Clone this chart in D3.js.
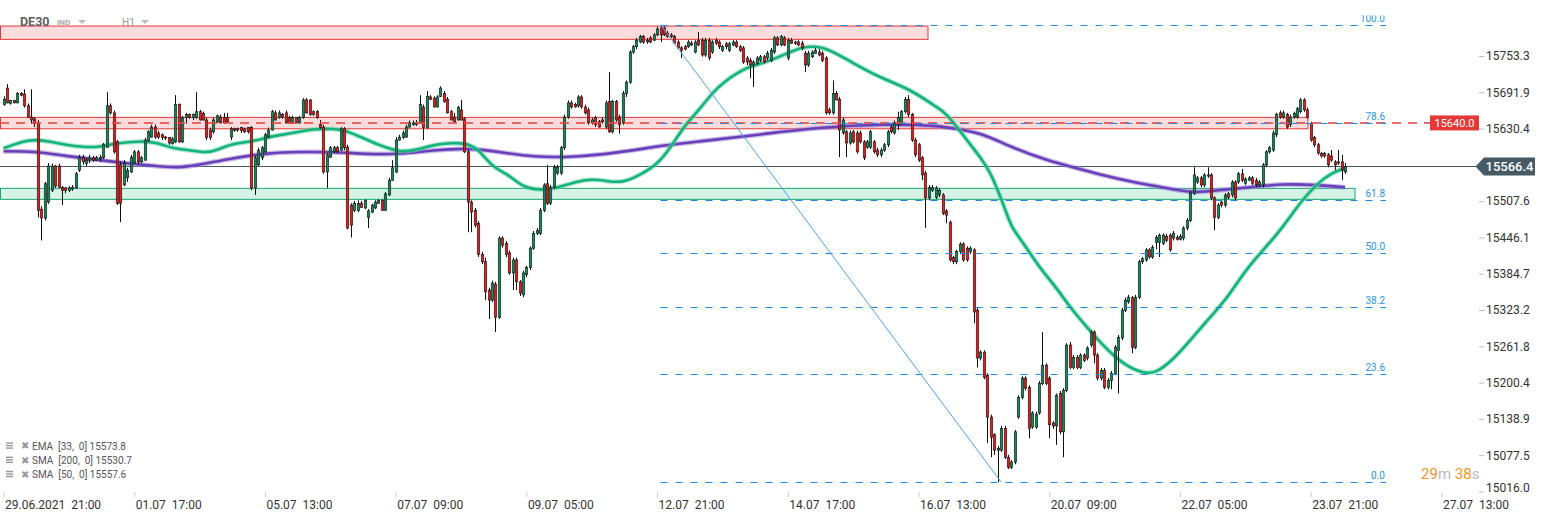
<!DOCTYPE html>
<html><head><meta charset="utf-8">
<script src="https://cdn.jsdelivr.net/npm/d3@7"></script>
<style>
html,body{margin:0;padding:0;background:#fff;}
svg{display:block;font-family:Roboto,"Noto Sans",sans-serif;}
</style></head><body>
<svg id="chart" width="1546" height="518"></svg>
<script>
// ---- candle data (DE30, H1) ----
const openP = [
15671,15699,15673,15678,15674,15690,15689,15669,15650,15647,
15640,15494,15479,15506,15526,15567,15567,15531,15530,15526,
15528,15530,15560,15582,15571,15577,15581,15577,15579,15581,
15599,15669,15657,15608,15569,15535,15547,15557,15572,15591,
15574,15577,15610,15616,15633,15623,15620,15616,15615,15605,
15608,15671,15608,15649,15654,15649,15649,15659,15656,15645,
15628,15625,15642,15650,15649,15649,15616,15630,15628,15632,
15630,15632,15632,15530,15569,15581,15591,15616,15628,15657,
15649,15654,15657,15649,15640,15649,15640,15649,15679,15679,
15659,15659,15637,15633,15557,15582,15591,15598,15594,15630,
15599,15501,15492,15492,15504,15496,15480,15489,15496,15504,
15509,15492,15518,15543,15557,15611,15615,15616,15633,15637,
15637,15640,15667,15632,15684,15682,15667,15685,15690,15680,
15659,15650,15645,15662,15647,15591,15506,15492,15470,15417,
15405,15357,15340,15367,15311,15445,15436,15420,15386,15408,
15371,15349,15383,15395,15428,15453,15453,15492,15537,15504,
15531,15555,15555,15598,15650,15674,15671,15669,15684,15667,
15662,15640,15649,15642,15645,15633,15676,15625,15676,15650,
15640,15690,15709,15760,15769,15777,15786,15777,15784,15780,
15789,15801,15801,15792,15789,15786,15777,15767,15769,15769,
15775,15760,15780,15780,15755,15780,15760,15780,15777,15763,
15774,15763,15772,15777,15769,15767,15750,15746,15738,15741,
15746,15752,15750,15746,15760,15784,15772,15784,15750,15780,
15777,15777,15775,15758,15738,15752,15758,15760,15758,15750,
15662,15657,15690,15680,15623,15625,15606,15625,15623,15623,
15608,15599,15599,15608,15594,15586,15594,15603,15633,15623,
15637,15640,15659,15680,15654,15611,15603,15581,15555,15513,
15526,15514,15518,15518,15491,15472,15412,15405,15422,15435,
15428,15422,15425,15323,15242,15252,15213,15142,15112,15086,
15086,15123,15074,15057,15066,15142,15175,15208,15192,15125,
15125,15149,15199,15230,15208,15132,15127,15182,15117,15187,
15264,15226,15243,15226,15247,15242,15264,15286,15247,15208,
15221,15192,15204,15216,15255,15276,15323,15337,15344,15260,
15345,15405,15408,15425,15413,15438,15438,15436,15448,15450,
15445,15446,15443,15445,15462,15475,15521,15540,15547,15535,
15550,15552,15513,15480,15506,15501,15520,15518,15540,15540,
15554,15538,15543,15547,15543,15535,15535,15569,15591,15594,
15620,15657,15650,15654,15637,15650,15650,15659,15679,15662,
15639,15615,15603,15588,15588,15586,15584,15574,15574,15574,
15557];
const highP = [
15685,15706,15679,15679,15692,15692,15697,15673,15697,15650,
15645,15499,15540,15572,15571,15569,15571,15533,15531,15533,
15535,15557,15586,15586,15581,15586,15584,15584,15586,15606,
15692,15673,15661,15611,15574,15577,15564,15586,15594,15594,
15584,15615,15628,15637,15637,15627,15622,15618,15616,15616,
15687,15673,15652,15657,15656,15656,15692,15662,15659,15649,
15632,15649,15654,15654,15657,15657,15633,15632,15632,15633,
15632,15633,15635,15584,15598,15601,15623,15632,15662,15661,
15661,15657,15661,15652,15652,15650,15652,15682,15682,15680,
15661,15662,15645,15637,15589,15601,15601,15601,15633,15633,
15603,15504,15508,15509,15508,15511,15494,15503,15509,15511,
15511,15523,15547,15577,15616,15620,15627,15637,15644,15644,
15645,15687,15671,15694,15687,15685,15687,15702,15694,15684,
15662,15657,15669,15679,15650,15594,15509,15496,15474,15422,
15412,15361,15373,15371,15448,15448,15440,15424,15412,15412,
15374,15390,15398,15431,15457,15462,15496,15538,15569,15535,
15569,15569,15601,15654,15678,15678,15674,15687,15687,15671,
15666,15649,15652,15645,15649,15678,15726,15679,15679,15654,
15694,15712,15763,15772,15784,15789,15789,15784,15787,15792,
15803,15806,15803,15796,15792,15789,15780,15770,15772,15780,
15779,15780,15794,15784,15784,15784,15780,15784,15780,15772,
15777,15777,15780,15780,15772,15770,15753,15750,15746,15753,
15755,15755,15762,15767,15787,15787,15789,15787,15784,15784,
15779,15780,15779,15762,15762,15763,15767,15765,15762,15753,
15666,15712,15694,15684,15649,15628,15627,15628,15627,15627,
15611,15611,15628,15611,15598,15598,15606,15628,15637,15644,
15659,15662,15684,15687,15657,15615,15606,15584,15559,15535,
15535,15533,15530,15521,15494,15475,15415,15425,15438,15438,
15431,15431,15428,15327,15255,15255,15216,15146,15115,15093,
15127,15127,15078,15069,15120,15179,15211,15211,15196,15152,
15151,15203,15286,15233,15211,15135,15182,15186,15191,15267,
15269,15247,15247,15250,15250,15262,15289,15289,15250,15225,
15225,15208,15220,15264,15281,15327,15344,15349,15347,15349,
15408,15413,15428,15428,15433,15450,15453,15453,15452,15453,
15457,15450,15452,15465,15479,15525,15565,15550,15550,15555,
15565,15555,15516,15504,15509,15521,15523,15543,15543,15557,
15562,15548,15550,15550,15547,15543,15572,15594,15601,15627,
15657,15661,15661,15657,15654,15659,15667,15682,15682,15666,
15642,15618,15606,15591,15591,15589,15594,15577,15594,15586,
15572];
const lowP = [
15669,15673,15671,15673,15673,15685,15666,15649,15639,15633,
15480,15441,15475,15503,15523,15530,15530,15501,15521,15523,
15525,15528,15557,15569,15567,15572,15574,15576,15574,15579,
15598,15654,15588,15501,15472,15533,15540,15555,15571,15569,
15572,15576,15608,15615,15613,15613,15611,15611,15603,15603,
15606,15606,15606,15639,15647,15645,15647,15644,15644,15611,
15611,15622,15640,15639,15639,15640,15611,15625,15625,15623,
15623,15622,15526,15518,15567,15577,15589,15615,15627,15644,
15647,15647,15639,15639,15639,15639,15639,15647,15656,15652,
15652,15647,15630,15554,15530,15581,15589,15589,15593,15594,
15460,15446,15489,15489,15496,15494,15462,15487,15494,15503,
15491,15491,15516,15542,15555,15610,15613,15615,15632,15635,
15635,15639,15611,15630,15679,15666,15666,15684,15674,15656,
15644,15640,15644,15644,15589,15455,15455,15463,15413,15401,
15340,15308,15337,15286,15308,15429,15413,15383,15357,15357,
15347,15345,15379,15391,15425,15450,15450,15489,15501,15501,
15528,15552,15552,15594,15647,15664,15666,15666,15664,15654,
15637,15637,15633,15632,15639,15630,15623,15622,15642,15622,
15637,15684,15706,15757,15765,15775,15774,15774,15775,15779,
15787,15777,15787,15784,15784,15774,15765,15750,15763,15767,
15770,15758,15770,15752,15752,15746,15757,15772,15765,15760,
15765,15760,15770,15767,15760,15740,15738,15716,15701,15738,
15743,15741,15746,15743,15757,15770,15770,15770,15746,15774,
15772,15770,15763,15726,15735,15750,15757,15753,15743,15654,
15654,15654,15678,15582,15620,15582,15603,15605,15588,15605,
15577,15596,15596,15588,15582,15582,15591,15599,15622,15620,
15628,15637,15656,15650,15608,15582,15574,15543,15462,15509,
15523,15511,15514,15484,15470,15405,15401,15401,15418,15405,
15405,15418,15301,15226,15238,15206,15098,15074,15078,15032,
15083,15071,15054,15054,15062,15139,15172,15187,15106,15122,
15122,15146,15196,15196,15106,15122,15095,15113,15074,15184,
15223,15223,15223,15223,15235,15238,15260,15233,15204,15204,
15189,15189,15189,15213,15182,15272,15320,15334,15250,15257,
15342,15401,15405,15410,15410,15426,15413,15433,15438,15422,
15441,15441,15441,15441,15458,15472,15518,15537,15531,15531,
15547,15509,15458,15477,15497,15497,15511,15514,15509,15537,
15540,15535,15542,15535,15531,15531,15531,15565,15588,15591,
15616,15647,15647,15630,15633,15647,15647,15656,15659,15647,
15608,15599,15586,15581,15581,15565,15574,15560,15569,15543,
15554];
const closeP = [
15680,15674,15678,15674,15690,15687,15669,15650,15645,15639,
15492,15479,15537,15567,15567,15533,15531,15526,15526,15530,
15531,15554,15582,15574,15577,15581,15577,15581,15582,15603,
15669,15657,15591,15504,15504,15572,15560,15582,15591,15574,
15581,15611,15625,15633,15616,15616,15615,15615,15606,15613,
15671,15608,15649,15654,15649,15654,15659,15645,15645,15615,
15615,15645,15652,15640,15640,15642,15630,15627,15630,15627,
15625,15625,15530,15581,15594,15598,15620,15628,15659,15645,
15657,15649,15640,15640,15649,15640,15649,15679,15657,15654,
15654,15649,15632,15557,15586,15598,15598,15591,15630,15598,
15462,15467,15504,15504,15497,15509,15491,15501,15506,15509,
15492,15520,15543,15564,15611,15616,15623,15633,15640,15640,
15640,15671,15632,15685,15680,15667,15684,15699,15676,15657,
15645,15642,15666,15645,15591,15506,15489,15467,15417,15405,
15354,15340,15369,15311,15445,15433,15417,15386,15408,15371,
15352,15386,15395,15428,15453,15458,15492,15535,15504,15531,
15565,15565,15598,15650,15674,15667,15667,15684,15667,15657,
15640,15645,15637,15633,15642,15674,15625,15676,15645,15637,
15690,15709,15760,15769,15780,15786,15777,15780,15777,15789,
15799,15789,15789,15786,15786,15775,15767,15763,15765,15777,
15772,15777,15772,15755,15780,15750,15777,15775,15769,15769,
15769,15774,15777,15769,15763,15743,15743,15738,15743,15750,
15752,15743,15758,15763,15784,15772,15786,15772,15780,15775,
15775,15772,15767,15738,15758,15760,15763,15755,15746,15657,
15657,15690,15679,15628,15645,15606,15623,15608,15591,15608,
15581,15608,15625,15591,15586,15594,15603,15625,15625,15640,
15649,15659,15680,15654,15611,15586,15577,15552,15513,15531,
15531,15530,15526,15487,15484,15408,15405,15422,15435,15408,
15408,15428,15320,15242,15252,15209,15142,15108,15086,15089,
15123,15074,15057,15066,15117,15175,15208,15191,15123,15149,
15147,15199,15230,15199,15129,15127,15179,15117,15187,15264,
15226,15243,15226,15247,15238,15259,15286,15247,15208,15221,
15192,15204,15216,15260,15277,15323,15340,15345,15260,15345,
15405,15410,15425,15413,15429,15446,15450,15450,15441,15425,
15453,15443,15448,15462,15475,15521,15552,15547,15535,15552,
15552,15513,15480,15501,15501,15518,15514,15540,15513,15554,
15543,15545,15547,15538,15535,15540,15569,15591,15598,15623,
15654,15650,15657,15633,15650,15656,15664,15679,15662,15650,
15611,15603,15589,15584,15584,15569,15577,15569,15572,15560,
15566.4];

// ---- moving averages (bar index, value) ----
const emaIdx = [0,8,14,18,23,28,33,38,41,45,49,54,59,62,67,72,77,81,86,91,96,99,104,109,112,115,120,125,130,134,138,142,147,151,156,161,166,171,175,180,185,190,194,198,203,207,215,221,228,232,236,240,247,255,264,271,274,280,284,287,289,291,293,296,301,306,310,315,319,325,331,335,340,345,350,356,361,367,372,377,382,386,390];
const emaVal = [15597,15614,15608,15603,15599,15599,15606,15608,15609,15606,15597,15594,15589,15594,15606,15608,15616,15620,15625,15630,15630,15628,15616,15603,15597,15591,15594,15603,15606,15606,15597,15565,15552,15531,15526,15530,15540,15545,15542,15538,15552,15569,15599,15636,15667,15699,15733,15741,15758,15768,15770,15765,15741,15716,15696,15667,15658,15611,15582,15555,15526,15497,15463,15441,15396,15362,15328,15294,15267,15233,15216,15216,15239,15272,15306,15345,15391,15430,15464,15506,15538,15555,15564];
const sma200Idx = [0,9,18,28,38,48,52,57,67,77,86,96,106,115,125,134,140,144,154,166,178,193,203,218,237,257,271,279,284,293,303,313,319,328,338,346,353,362,372,382,390];
const sma200Val = [15592,15592,15584,15577,15570,15565,15565,15569,15581,15589,15591,15591,15587,15587,15594,15597,15594,15591,15582,15582,15589,15603,15609,15619,15633,15638,15636,15628,15623,15599,15577,15562,15552,15540,15530,15521,15526,15531,15537,15535,15531];

// ---- axes ----
const yTickValues = [15753.3,15691.9,15630.4,15507.6,15446.1,15384.7,15323.2,15261.8,15200.4,15138.9,15077.5,15016.0];
const xTickIdx = [0,38,76,114,152,190,228,266,304,342,380,418];
const xTickLabels = ["29.06.2021  21:00","01.07  17:00","05.07  13:00","07.07  09:00","09.07  05:00","12.07  21:00","14.07  17:00","16.07  13:00","20.07  09:00","22.07  05:00","23.07  21:00","27.07  13:00"];

// ---- drawings ----
const fibLevels = [0.0,23.6,38.2,50.0,61.8,78.6,100.0];
const fibHigh = 15806, fibLow = 15032;
const fibHighIdx = 191, fibLowIdx = 290;
const zoneTop = [15781.5,15804.0];
const zoneResistance = [15630.1,15649.4];
const zoneSupport = [15510.6,15529.2];
const resistanceLevel = 15640.0;
const lastPrice = 15566.4;
const legendItems = ["EMA  [33,  0] 15573.8","SMA  [200,  0] 15530.7","SMA  [50,  0] 15557.6"];

const svg = d3.select("#chart");
const x = d3.scaleLinear().domain([0,390]).range([3.5,1345.1]);
const y = d3.scaleLinear().domain([15016,15753.3]).range([491.5,56]);

const bars = openP.map((o,i)=>({i,o,h:highP[i],l:lowP[i],c:closeP[i]}));

// zones
function zone(r, x1, fill, stroke){
  svg.append("rect").attr("x",0.5).attr("width",x1-0.5)
    .attr("y",y(r[1])).attr("height",y(r[0])-y(r[1]))
    .attr("fill",fill).attr("stroke",stroke).attr("stroke-width",1);
}
zone(zoneTop, 928, "#fbdcdc", "#e53935");
zone(zoneResistance, 1308, "#fbdcdc", "#e53935");
zone(zoneSupport, 1355, "#d6f3e8", "#16a873");

// current price line
svg.append("line").attr("x1",0).attr("x2",1476)
  .attr("y1",Math.round(y(lastPrice))+0.5).attr("y2",Math.round(y(lastPrice))+0.5)
  .attr("stroke","#455a64").attr("stroke-width",1);

// moving averages
const line = d3.line().x(d=>x(d[0])).y(d=>y(d[1])).curve(d3.curveBasis);
const smaPts = sma200Idx.map((d,i)=>[d,sma200Val[i]]);
const emaPts = emaIdx.map((d,i)=>[d,emaVal[i]]);
svg.append("path").attr("d",line(smaPts)).attr("fill","none").attr("stroke","#9d84d8").attr("stroke-width",5).attr("opacity",0.55);
svg.append("path").attr("d",line(smaPts)).attr("fill","none").attr("stroke","#6a40b8").attr("stroke-width",2.6);
svg.append("path").attr("d",line(emaPts)).attr("fill","none").attr("stroke","#6fd4ab").attr("stroke-width",5).attr("opacity",0.55);
svg.append("path").attr("d",line(emaPts)).attr("fill","none").attr("stroke","#14b37c").attr("stroke-width",2.6);

// candles
const cg = svg.append("g");
const cx = i => Math.round(x(i)) + 0.5;
cg.selectAll("line.w").data(bars).join("line").attr("class","w")
  .attr("x1",d=>cx(d.i)).attr("x2",d=>cx(d.i))
  .attr("y1",d=>y(d.h)).attr("y2",d=>y(d.l))
  .attr("stroke","#111").attr("stroke-width",1);
cg.selectAll("rect.b").data(bars).join("rect").attr("class","b")
  .attr("x",d=>cx(d.i)-1.25).attr("width",2.5)
  .attr("y",d=>y(Math.max(d.o,d.c)))
  .attr("height",d=>Math.max(1,Math.abs(y(d.o)-y(d.c))))
  .attr("fill",d=>d.c>=d.o?"#12875c":"#e31b1b")
  .attr("stroke","#161616").attr("stroke-width",0.6);

// resistance dashed line
svg.append("line").attr("x1",0).attr("x2",1430)
  .attr("y1",y(resistanceLevel)).attr("y2",y(resistanceLevel))
  .attr("stroke","#e84646").attr("stroke-width",2).attr("stroke-dasharray","9,7").attr("opacity",0.8);

// fibonacci
svg.append("clipPath").attr("id","fibclip").append("rect").attr("x",0).attr("y",15.5).attr("width",1546).attr("height",504);
const fg = svg.append("g").attr("clip-path","url(#fibclip)");
fibLevels.forEach(l=>{
  const v = fibLow + (fibHigh-fibLow)*l/100;
  const yy = Math.round(y(v))+0.5;
  fg.append("line").attr("x1",x(fibHighIdx)).attr("x2",1386).attr("y1",yy).attr("y2",yy)
    .attr("stroke","#1e88e5").attr("stroke-width",1).attr("stroke-dasharray","7,8");
  fg.append("text").attr("x",1385).attr("y",yy-4).attr("text-anchor","end")
    .attr("font-size",10).attr("fill","#2196f3").text(l.toFixed(1));
});
svg.append("line").attr("x1",x(fibHighIdx)).attr("y1",y(fibHigh))
  .attr("x2",x(fibLowIdx)).attr("y2",y(fibLow))
  .attr("stroke","#42a5f5").attr("stroke-width",1);

// y axis
const yAxis = d3.axisRight(y).tickValues(yTickValues).tickSize(5).tickFormat(d=>d.toFixed(1));
const ya = svg.append("g").attr("transform","translate(1479,0)").call(yAxis);
ya.select(".domain").remove();
ya.selectAll(".tick line").attr("stroke","#bbb");
ya.selectAll(".tick text").attr("x",7).attr("fill","#333").attr("font-size",12).attr("font-family","Roboto,sans-serif");
ya.selectAll(".tick").filter(d=>d===15016.0).select("text").attr("dy","0.0em");

// x axis
const xAxis = d3.axisBottom(x).tickValues(xTickIdx).tickSize(5).tickFormat((d,i)=>xTickLabels[i]);
const xa = svg.append("g").attr("transform","translate(0,492)").call(xAxis);
xa.select(".domain").remove();
xa.selectAll(".tick line").attr("stroke","#ccc");
xa.selectAll(".tick text").attr("text-anchor","start").attr("x",1).attr("y",8)
  .attr("fill","#333").attr("font-size",12).attr("font-family","Roboto,sans-serif")
  .style("white-space","pre");

// resistance label
const ry = y(resistanceLevel);
svg.append("rect").attr("x",1430).attr("y",ry-7.5).attr("width",49).attr("height",15).attr("fill","#e53935");
svg.append("text").attr("x",1454.5).attr("y",ry).attr("dy","0.35em").attr("text-anchor","middle")
  .attr("font-size",11).attr("fill","#fff").text(resistanceLevel.toFixed(1));

// current price label
const py = y(lastPrice);
svg.append("path").attr("d",`M1475.5,${py} L1484,${py-9} L1535,${py-9} L1535,${py+9} L1484,${py+9} Z`).attr("fill","#455a64");
svg.append("text").attr("x",1509.5).attr("y",py).attr("dy","0.36em").attr("text-anchor","middle")
  .attr("font-size",13).attr("font-weight",500).attr("fill","#fff").text(lastPrice.toFixed(1));

// header
svg.append("text").attr("x",20).attr("y",26).attr("font-size",12.5).attr("font-weight","bold").attr("fill","#5f5f5f").text("DE30");
svg.append("text").attr("x",57).attr("y",25).attr("font-size",8).attr("font-weight","bold").attr("fill","#aaa").text("IND");
svg.append("path").attr("d","M78,20 L86,20 L82,24 Z").attr("fill","#bbb");
svg.append("text").attr("x",122).attr("y",26).attr("font-size",10).attr("fill","#999").text("H1");
svg.append("path").attr("d","M141,20 L149,20 L145,24 Z").attr("fill","#bbb");

// legend
legendItems.forEach((t,i)=>{
  const ly = 446 + i*14.2;
  const g = svg.append("g");
  [-3,-0.5,2].forEach(o=>g.append("rect").attr("x",6).attr("y",ly+o-0.6).attr("width",7).attr("height",1.4).attr("fill","#999"));
  g.append("text").attr("x",20.5).attr("y",ly).attr("dy","0.35em").attr("font-size",9.5).attr("fill","#999").text("✖");
  g.append("text").attr("x",32).attr("y",ly).attr("dy","0.35em").attr("font-size",10).attr("fill","#555").style("white-space","pre").text(t);
});

// countdown
const cd = svg.append("text").attr("x",1421).attr("y",479).attr("font-size",15);
cd.append("tspan").attr("fill","#f7931e").text("29");
cd.append("tspan").attr("fill","#bbb").text("m ");
cd.append("tspan").attr("fill","#f7931e").text("38");
cd.append("tspan").attr("fill","#bbb").text("s");
</script>
</body></html>
